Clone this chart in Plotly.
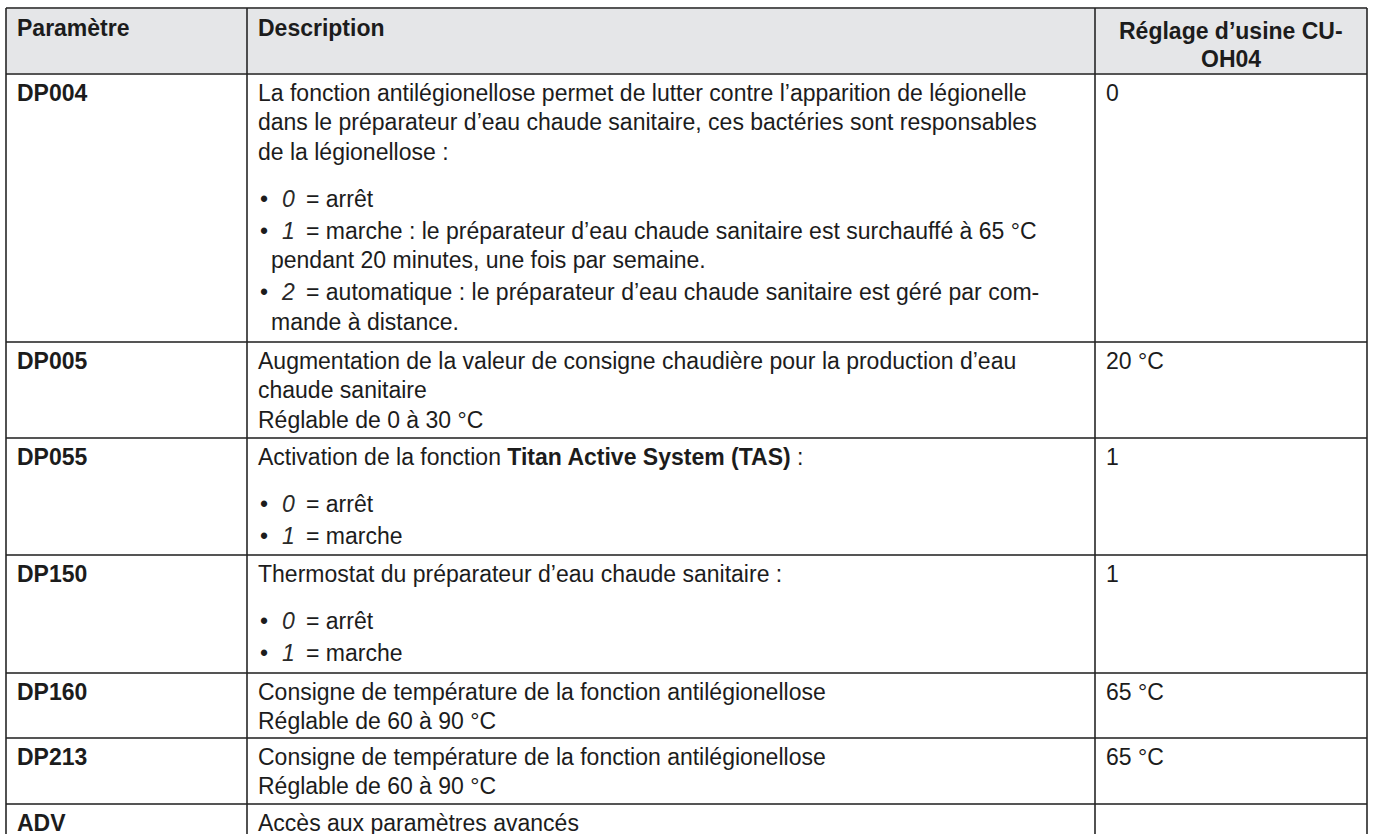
import plotly.graph_objects as go

# ---------------- data ----------------
header = ["Paramètre", "Description", "Réglage d’usine CU-<br>OH04"]
params = ["DP004", "DP005", "DP055", "DP150", "DP160", "DP213", "ADV"]
factory = ["0", "20 °C", "1", "1", "65 °C", "65 °C", ""]

desc_dp004 = [
    ("p", None, ["La fonction antilégionellose permet de lutter contre l’apparition de légionelle",
                 "dans le préparateur d’eau chaude sanitaire, ces bactéries sont responsables",
                 "de la légionellose :"]),
    ("li", "0", ["= arrêt"]),
    ("li", "1", ["= marche : le préparateur d’eau chaude sanitaire est surchauffé à 65 °C",
                 "pendant 20 minutes, une fois par semaine."]),
    ("li", "2", ["= automatique : le préparateur d’eau chaude sanitaire est géré par com-",
                 "mande à distance."]),
]
desc_dp005 = [
    ("p", None, ["Augmentation de la valeur de consigne chaudière pour la production d’eau",
                 "chaude sanitaire",
                 "Réglable de 0 à 30 °C"]),
]
desc_dp055 = [
    ("p", None, ["Activation de la fonction <b>Titan Active System (TAS)</b> :"]),
    ("li", "0", ["= arrêt"]),
    ("li", "1", ["= marche"]),
]
desc_dp150 = [
    ("p", None, ["Thermostat du préparateur d’eau chaude sanitaire :"]),
    ("li", "0", ["= arrêt"]),
    ("li", "1", ["= marche"]),
]
desc_dp160 = [
    ("p", None, ["Consigne de température de la fonction antilégionellose",
                 "Réglable de 60 à 90 °C"]),
]
desc_dp213 = [
    ("p", None, ["Consigne de température de la fonction antilégionellose",
                 "Réglable de 60 à 90 °C"]),
]
desc_adv = [
    ("p", None, ["Accès aux paramètres avancés"]),
]
descriptions = [desc_dp004, desc_dp005, desc_dp055, desc_dp150, desc_dp160, desc_dp213, desc_adv]

# ---------------- layout constants ----------------
W, H = 1373, 834
COL_EDGES = [6, 247, 1095, 1367]
ROW_EDGES = [8, 74, 342, 438, 555, 673, 738, 804, 842]
PAD_X = 9
FIRST_LINE = 18.5
PITCH = 29.5
GAP_P_LI = 47
GAP_LI_LI = 32
FS = 23
FONT = "Liberation Sans, Arial, Helvetica, sans-serif"
TXT = "#1c1c1c"
HLINE = "#555555"
VLINE = "#262626"
HEAD_FILL = "#e5e6e8"

fig = go.Figure()
shapes = []
annotations = []

def ann(x, y, text, xanchor="left", bold=False, italic=False, size=FS, color=TXT):
    t = text
    if bold:
        t = "<b>" + t + "</b>"
    if italic:
        t = "<i>" + t + "</i>"
    annotations.append(dict(x=x, y=y, xref="x", yref="y", text=t, showarrow=False,
                            xanchor=xanchor, yanchor="middle", align="left" if xanchor == "left" else "center",
                            font=dict(family=FONT, size=size, color=color)))

# header background
shapes.append(dict(type="rect", xref="x", yref="y", x0=COL_EDGES[0], x1=COL_EDGES[-1],
                   y0=ROW_EDGES[0], y1=ROW_EDGES[1], fillcolor=HEAD_FILL, line=dict(width=0), layer="below"))
# horizontal lines
for y in ROW_EDGES:
    shapes.append(dict(type="line", xref="x", yref="y", x0=COL_EDGES[0], x1=COL_EDGES[-1], y0=y, y1=y,
                       line=dict(color=HLINE, width=1.8)))
# vertical lines
for x in COL_EDGES:
    shapes.append(dict(type="line", xref="x", yref="y", x0=x, x1=x, y0=ROW_EDGES[0], y1=ROW_EDGES[-1],
                       line=dict(color=VLINE, width=1.6)))

# header text
ann(COL_EDGES[0] + PAD_X, ROW_EDGES[0] + 20, header[0], bold=True)
ann(COL_EDGES[1] + PAD_X, ROW_EDGES[0] + 20, header[1], bold=True)
h3a, h3b = header[2].split("<br>")
cx3 = (COL_EDGES[2] + COL_EDGES[3]) / 2
ann(cx3, ROW_EDGES[0] + 23, h3a, xanchor="center", bold=True)
ann(cx3, ROW_EDGES[0] + 51, h3b, xanchor="center", bold=True)

# body rows
for i, (p, desc, val) in enumerate(zip(params, descriptions, factory)):
    top = ROW_EDGES[i + 1]
    y0 = top + FIRST_LINE
    ann(COL_EDGES[0] + PAD_X, y0, p, bold=True)
    if val:
        ann(COL_EDGES[2] + PAD_X, y0, val)
    y = y0
    prev = None
    for kind, digit, lines in desc:
        if prev is not None:
            if kind == "li" and prev == "p":
                y += GAP_P_LI
            elif kind == "li" and prev == "li":
                y += GAP_LI_LI
            else:
                y += PITCH
        x_text = COL_EDGES[1] + PAD_X
        if kind == "li":
            ann(x_text + 2, y, "•")
            ann(x_text + 41, y, digit, xanchor="right", italic=True, color="#2a2a2a")
            ann(x_text + 48, y, lines[0])
            for k, ln in enumerate(lines[1:]):
                y += PITCH
                ann(x_text + 13, y, ln)
        else:
            for k, ln in enumerate(lines):
                if k > 0:
                    y += PITCH
                ann(x_text, y, ln)
        prev = kind

fig.update_layout(
    width=W, height=H,
    margin=dict(l=0, r=0, t=0, b=0),
    paper_bgcolor="white", plot_bgcolor="white",
    xaxis=dict(range=[0, W], visible=False, fixedrange=True),
    yaxis=dict(range=[H, 0], visible=False, fixedrange=True),
    shapes=shapes, annotations=annotations,
    showlegend=False,
)
fig.write_html("out.html", config={"displayModeBar": False},
               post_script="document.body.style.margin='0';document.body.style.overflow='hidden';")
